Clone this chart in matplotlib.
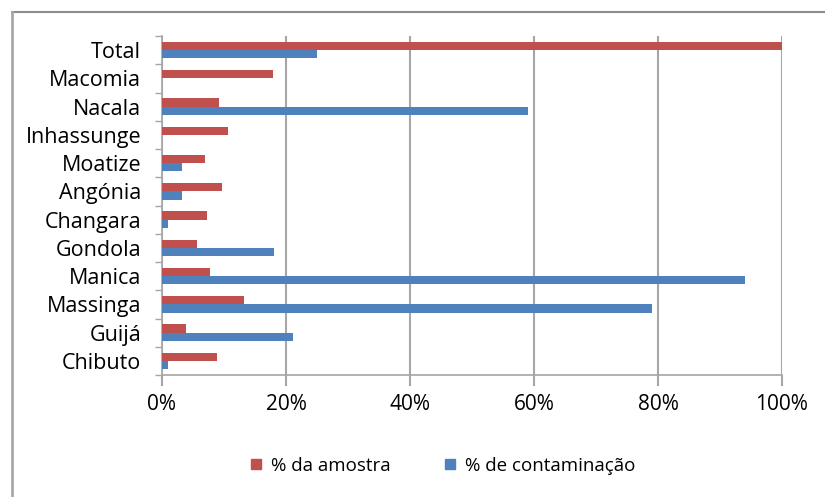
import numpy as np
import matplotlib
matplotlib.use("Agg")
import matplotlib.pyplot as plt
from matplotlib.lines import Line2D
from matplotlib.ticker import PercentFormatter

plt.rcParams['font.family'] = ['Open Sans', 'DejaVu Sans']

# data
districts = ['Total', 'Macomia', 'Nacala', 'Inhassunge', 'Moatize', 'Angónia',
             'Changara', 'Gondola', 'Manica', 'Massinga', 'Guijá', 'Chibuto']
amostra = [100, 17.9, 9.2, 10.6, 6.9, 9.7, 7.3, 5.6, 7.7, 13.2, 3.9, 8.9]
contaminacao = [25, 0, 59, 0, 3.2, 3.2, 1.0, 18.1, 94, 79, 21.1, 1.0]

red = '#C0504D'
blue = '#4F81BD'

fig = plt.figure(figsize=(8.25, 4.97), dpi=100)
ax = fig.add_axes([162/825, 1 - 375/497, 620/825, 339/497])

y = np.arange(len(districts))
h = 0.29
ax.barh(y - h/2, amostra, height=h, color=red, zorder=3)
ax.barh(y + h/2, contaminacao, height=h, color=blue, zorder=3)

ax.set_ylim(len(districts) - 0.5, -0.5)
ax.set_xlim(0, 100)
ax.set_yticks(y)
ax.set_yticklabels(districts, fontsize=15.5)
ax.set_yticks(np.arange(len(districts) + 1) - 0.5, minor=True)
ax.tick_params(axis='y', which='major', length=0, pad=15)
ax.tick_params(axis='y', which='minor', length=5, color='#A6A6A6', width=1)
ax.set_xticks([0, 20, 40, 60, 80, 100])
ax.xaxis.set_major_formatter(PercentFormatter(decimals=0))
ax.tick_params(axis='x', labelsize=15, length=8, color='#A6A6A6', width=1.5, pad=6)
ax.grid(axis='x', color='#A6A6A6', linewidth=1.5, zorder=0)

for s in ['top', 'right']:
    ax.spines[s].set_visible(False)
for s in ['left', 'bottom']:
    ax.spines[s].set_color('#A6A6A6')
    ax.spines[s].set_linewidth(1.2)

handles = [Line2D([], [], marker='s', linestyle='', color=red, markersize=7),
           Line2D([], [], marker='s', linestyle='', color=blue, markersize=7)]
fig.legend(handles, ['% da amostra', '% de contaminação'], loc='center',
           bbox_to_anchor=(440/825, 1 - 466/497), ncol=2, frameon=False,
           fontsize=13.5, columnspacing=2.6, handletextpad=0.2, handlelength=1.2)

# outer frame (top and left edges visible)
fig.add_artist(Line2D([12/825, 1], [1 - 12/497, 1 - 12/497], transform=fig.transFigure,
                      color='#8C8C8C', linewidth=1.5))
fig.add_artist(Line2D([12/825, 12/825], [0, 1 - 12/497], transform=fig.transFigure,
                      color='#A8A8A8', linewidth=2))

fig.savefig('out.png', dpi=100)
